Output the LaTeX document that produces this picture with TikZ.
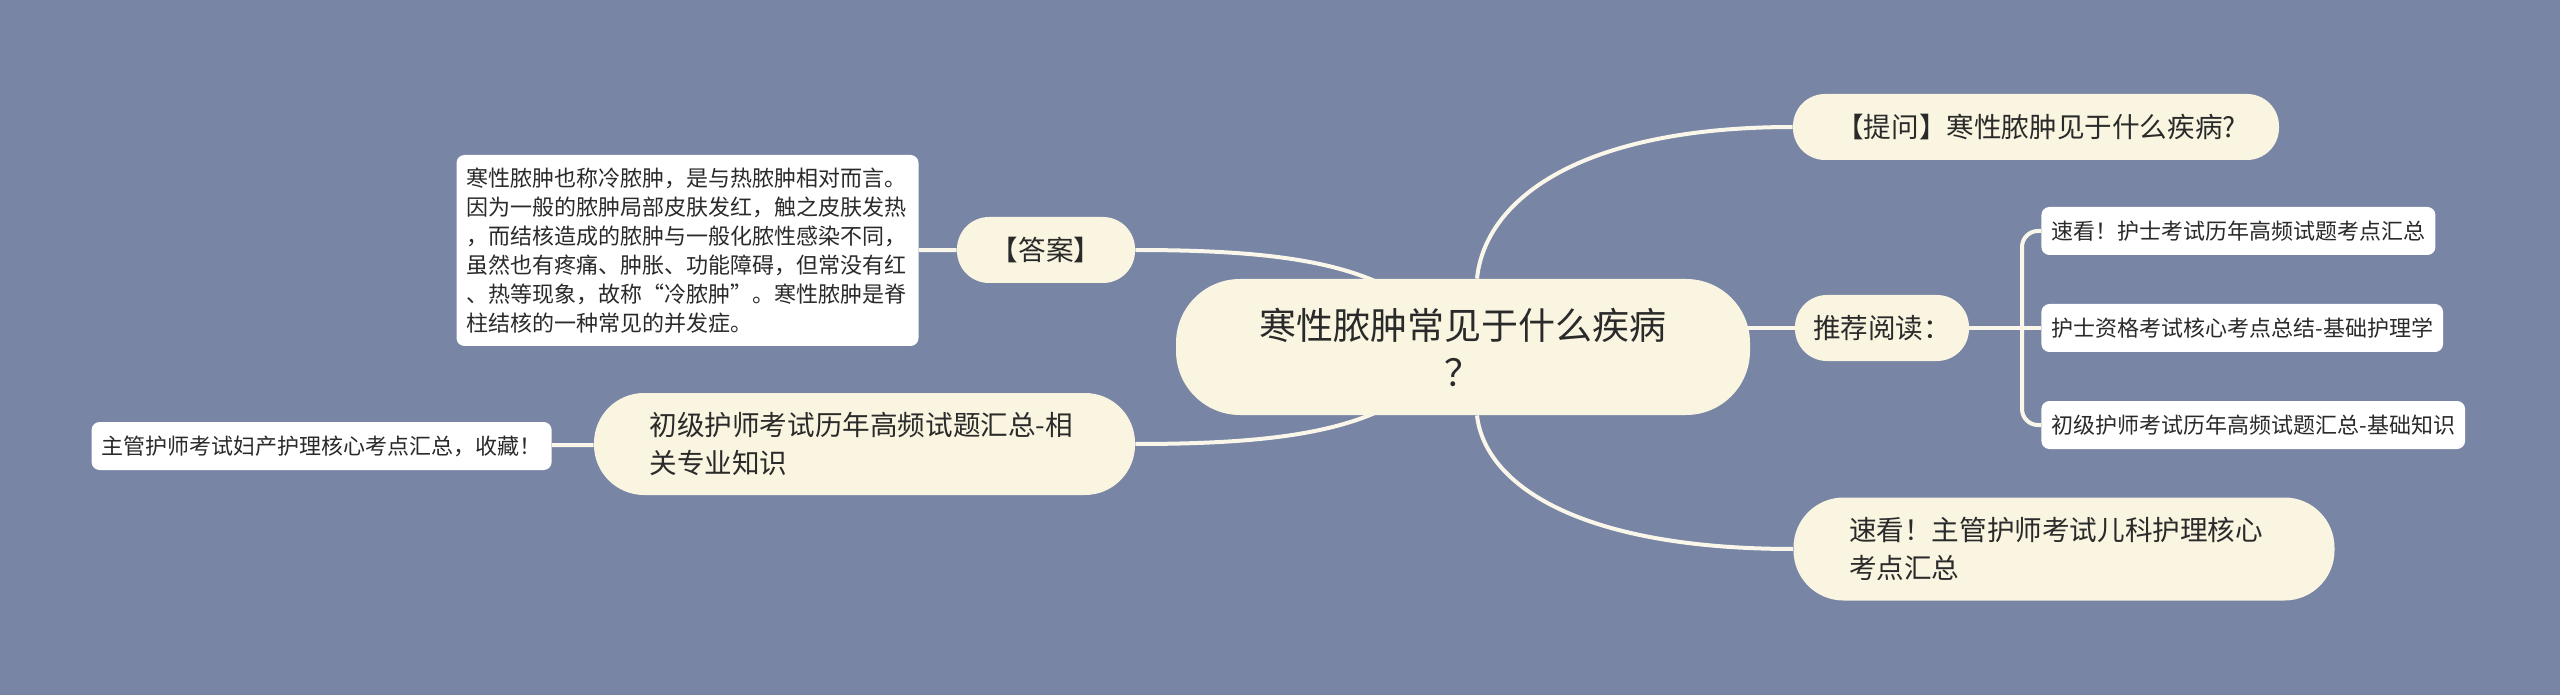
\documentclass[tikz,border=0pt]{standalone}
\usepackage{fontspec}
\setmainfont{Noto Sans CJK SC}
\definecolor{bgblue}{HTML}{7885A5}
\definecolor{cream}{HTML}{F9F5E1}
\definecolor{ink}{HTML}{2A2A2A}
\definecolor{linkc}{HTML}{FAF7EA}
\pgfdeclarelayer{edges}
\pgfsetlayers{edges,main}

\begin{document}
\begin{tikzpicture}[x=0.5pt,y=-0.5pt,
    topic/.style={fill=cream,text=ink,inner sep=0pt,align=center},
    big/.style={font=\fontsize{13.8pt}{19pt}\selectfont},
    leaf/.style={fill=white,text=ink,rounded corners=4pt,inner xsep=5pt,inner ysep=0pt,
      minimum height=24pt,font=\fontsize{11pt}{14.5pt}\selectfont},
    link/.style={draw=linkc,line width=2pt}]
  \useasboundingbox (0,0) rectangle (2560,695);
  \begin{pgfonlayer}{edges}
    \fill[bgblue] (0,0) rectangle (2560,695);
  \end{pgfonlayer}

  \node[topic,minimum width=287pt,minimum height=68pt,rounded corners=32pt,
    font=\fontsize{18.5pt}{23.5pt}\selectfont] (c) at (1463,347) {寒性脓肿常见于什么疾病\\？};

  \node[topic,big,minimum width=243pt,minimum height=33pt,rounded corners=16pt] (q) at (2036,127) {【提问】寒性脓肿见于什么疾病?};
  \node[topic,big,minimum width=87pt,minimum height=33pt,rounded corners=16pt] (r) at (1882,328) {推荐阅读：};
  \node[topic,big,minimum width=270.5pt,minimum height=51.5pt,rounded corners=25pt,
    text width=215pt,align=left] (b) at (2064,549) {速看！主管护师考试儿科护理核心\\考点汇总};

  \node[leaf,anchor=west] (l1) at (2041,231) {速看！护士考试历年高频试题考点汇总};
  \node[leaf,anchor=west] (l2) at (2041,328) {护士资格考试核心考点总结-基础护理学};
  \node[leaf,anchor=west] (l3) at (2041,425) {初级护师考试历年高频试题汇总-基础知识};

  \node[topic,big,minimum width=89pt,minimum height=33pt,rounded corners=16pt] (a) at (1046,250) {【答案】};
  \node[leaf,text width=221pt,align=left,minimum height=95.5pt] (t) at (687.5,250.5)
    {寒性脓肿也称冷脓肿，是与热脓肿相对而言。\\因为一般的脓肿局部皮肤发红，触之皮肤发热\\，而结核造成的脓肿与一般化脓性感染不同，\\虽然也有疼痛、肿胀、功能障碍，但常没有红\\、热等现象，故称“冷脓肿”。寒性脓肿是脊\\柱结核的一种常见的并发症。};

  \node[topic,big,minimum width=270.5pt,minimum height=51pt,rounded corners=25pt,
    text width=215pt,align=left] (j) at (864.5,444) {初级护师考试历年高频试题汇总-相\\关专业知识};
  \node[leaf,anchor=east] (m) at (552,446) {主管护师考试妇产护理核心考点汇总，收藏！};

  \coordinate (fork) at (2022,328);
  \begin{pgfonlayer}{edges}
    \draw[link] ([xshift=7pt]c.north) .. controls +(8,-79) and +(-213,0) .. (q.west);
    \draw[link] ([xshift=7pt]c.south) .. controls +(8,70) and +(-213,0) .. (b.west);
    \draw[link] (c.center |- r.west) -- (r.west);
    \draw[link] (r) -- (l2);
    \draw[link,rounded corners=8pt] (l1.west) -| (fork) |- (l3.west);
    \draw[link] (a.east) .. controls +(195,0) and +(-63,-72) .. (c.center);
    \draw[link] (j.east) .. controls +(195,0) and +(-63,72) .. (c.center);
    \draw[link] (t) -- (a);
    \draw[link] (m) -- (j);
  \end{pgfonlayer}
\end{tikzpicture}
\end{document}
